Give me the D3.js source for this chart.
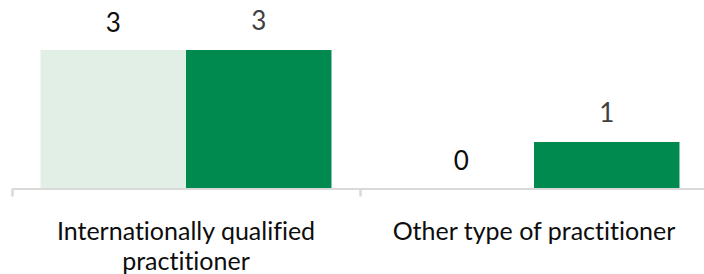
<!DOCTYPE html>
<html>
<head>
<meta charset="utf-8">
<script src="https://cdn.jsdelivr.net/npm/d3@7"></script>
<style>
  html, body { margin: 0; padding: 0; background: #fff; }
  svg { display: block; }
  text { font-family: Lato, "Open Sans", sans-serif; font-variant-ligatures: none; font-feature-settings: "liga" 0, "clig" 0; }
</style>
</head>
<body>
<svg id="chart" width="704" height="274"></svg>
<script>
const categories = ["Internationally qualified practitioner", "Other type of practitioner"];
const seriesNames = ["Series A", "Series B"];
const seriesA = [3, 0];
const seriesB = [3, 1];
const seriesColors = ["#e2efe6", "#008a50"];
const labelColors = ["#0d0d0d", "#404040"];
const labelGaps = [18, 20];

(function () {
const plotLeft = 12, plotRight = 708, plotBase = 188, plotTop = 50;
const svg = d3.select("#chart");

const x0 = d3.scaleBand().domain(categories).range([plotLeft, plotRight]).paddingInner(0).paddingOuter(0);
const x1 = d3.scaleBand().domain(seriesNames).range([0, x0.bandwidth()]).paddingInner(0).paddingOuter(0.196);
const y = d3.scaleLinear().domain([0, 3]).range([plotBase, plotTop]);

const rows = categories.map((c, i) => ({ cat: c, vals: [seriesA[i], seriesB[i]] }));

// bars
const g = svg.append("g");
rows.forEach(r => {
  r.vals.forEach((v, si) => {
    g.append("rect")
      .attr("x", x0(r.cat) + x1(seriesNames[si]))
      .attr("y", y(v))
      .attr("width", x1.bandwidth())
      .attr("height", plotBase - y(v))
      .attr("fill", seriesColors[si]);
  });
});

// axis with boundary ticks
const bScale = d3.scaleLinear().domain([0, categories.length]).range([plotLeft, plotRight]);
const axis = d3.axisBottom(bScale).tickValues(d3.range(categories.length + 1)).tickSize(8).tickSizeOuter(0).tickFormat("");
const ax = svg.append("g").attr("transform", `translate(0,${plotBase + 0.5})`).call(axis);
ax.select(".domain").attr("stroke", "#d9d9d9").attr("stroke-width", 2);
ax.selectAll(".tick line").attr("stroke", "#d9d9d9").attr("stroke-width", 2.5);

// value labels
rows.forEach(r => {
  r.vals.forEach((v, si) => {
    svg.append("text")
      .attr("x", x0(r.cat) + x1(seriesNames[si]) + x1.bandwidth() / 2)
      .attr("y", y(v) - labelGaps[si])
      .attr("text-anchor", "middle")
      .attr("font-size", 26)
      .attr("fill", labelColors[si])
      .text(v);
  });
});

// category labels with wrapping
const maxW = 320;
categories.forEach(c => {
  const cx = x0(c) + x0.bandwidth() / 2;
  const t = svg.append("text")
    .attr("x", cx)
    .attr("y", 240)
    .attr("text-anchor", "middle")
    .attr("font-size", 25)
    .attr("fill", "#0d0d0d");
  const words = c.split(" ");
  let line = [];
  let ts = t.append("tspan").attr("x", cx).attr("dy", 0);
  words.forEach(w => {
    line.push(w);
    ts.text(line.join(" "));
    if (ts.node().getComputedTextLength() > maxW && line.length > 1) {
      line.pop();
      ts.text(line.join(" "));
      line = [w];
      ts = t.append("tspan").attr("x", cx).attr("dy", 29.5).text(w);
    }
  });
});
})();
</script>
</body>
</html>
